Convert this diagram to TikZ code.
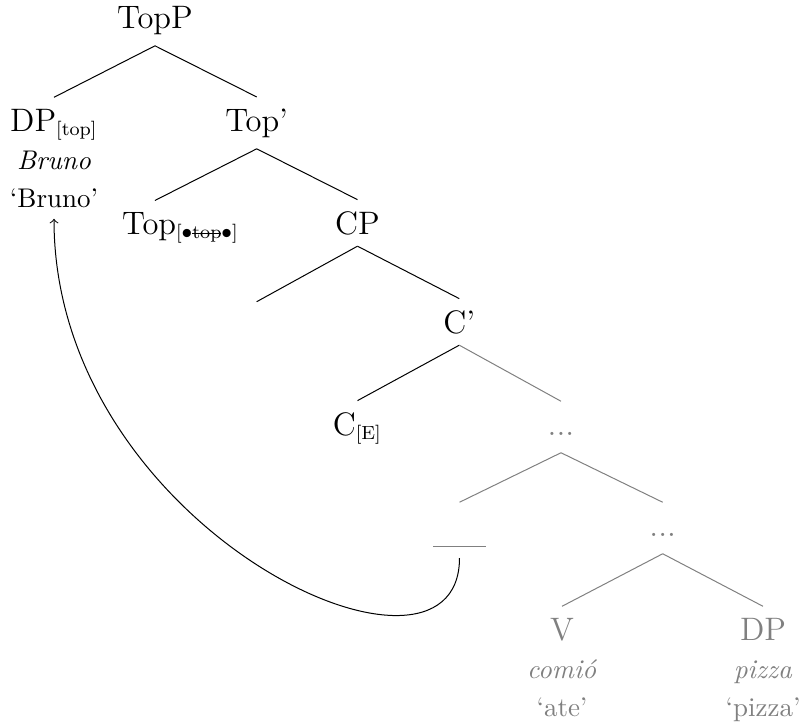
\documentclass[tikz,border=0pt]{standalone}
\usepackage{amsmath}
\usepackage{amssymb}
\usepackage{tikz}
\newcommand{\strk}[1]{\setbox0\hbox{#1}\rlap{\rule[0.5ex]{\wd0}{0.4pt}}\box0}
\newcommand{\feat}[1]{\textsubscript{\fontsize{7.6}{8}\selectfont #1}}

\begin{document}
\begin{tikzpicture}[x=0.4pt, y=-0.4pt,
	every node/.style={anchor=base, inner xsep=0pt, inner ysep=4.4pt, font=\fontsize{13}{15}\selectfont},
	gloss/.style={font=\fontsize{10.8}{12.5}\selectfont},
	faded/.style={text=black!50},
	dotsnode/.style={text height=8.9pt, text depth=2.5pt}]
			\useasboundingbox (0,0) rectangle (801,727);
			
			\node (topp) at (155,28){TopP};
			\node (dp) at (54,131){DP\feat{[top]}};
			\node[gloss] (dpw) at (54,169){\textit{Bruno}};
			\node[gloss] (dpt) at (54,207){`Bruno'};
			\node (topbar) at (256.7,131){Top'};
			\node[anchor=base west] (tophd) at (121.7,234){Top\feat{[$\bullet$\strk{top}$\bullet$]}};
			\node (cp) at (357.5,234){CP};
			\coordinate (spec) at (256.7,301.7);
			\node (cbar) at (459.3,333){C'};
			\node (chd) at (357.5,435){C\feat{[E]}};
			\node[faded, dotsnode] (dotsa) at (561,435){...};
			\node[faded, text height=8.9pt] (trace) at (459.5,536){\rule[-4.2pt]{21pt}{0.4pt}};
			\node[faded, dotsnode] (dotsb) at (662.7,536){...};
			\node[faded] (v) at (562,640){V};
			\node[faded, gloss] (vw) at (562,678){\textit{comió}};
			\node[faded, gloss] (vt) at (562,716){`ate'};
			\node[faded] (obj) at (763,640){DP};
			\node[faded, gloss] (objw) at (763,678){\textit{pizza}};
			\node[faded, gloss] (objt) at (763,716){`pizza'};
			
			\path (topp.south) edge (dp.north);
			\path (topp.south) edge (topbar.north);
			\path (topbar.south) edge ([xshift=13.3pt]tophd.north west);
			\path (topbar.south) edge (cp.north);
			\path (cp.south) edge (spec);
			\path (cp.south) edge (cbar.north);
			\path (cbar.south) edge (chd.north);
			\path (cbar.south) edge[black!50] (dotsa.north);
			\path (dotsa.south) edge[black!50] (trace.north);
			\path (dotsa.south) edge[black!50] (dotsb.north);
			\path (dotsb.south) edge[black!50] (v.north);
			\path (dotsb.south) edge[black!50] (obj.north);
			\draw[->] (trace.south) .. controls +(0,158) and +(0,312) .. (dpt.south);
			\end{tikzpicture}
\end{document}
